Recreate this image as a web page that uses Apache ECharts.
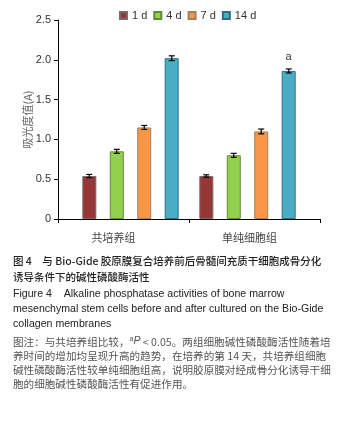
<!DOCTYPE html>
<html>
<head>
<meta charset="utf-8">
<script src="https://cdn.jsdelivr.net/npm/echarts@6/dist/echarts.min.js"></script>
<style>
  html, body { margin: 0; padding: 0; background: #fff; }
  #chart { width: 351px; height: 421px; }
</style>
</head>
<body>
<div id="chart"></div>
<script>
  // data
  var groups = ['共培养组', '单纯细胞组']
  var days = ['1 d', '4 d', '7 d', '14 d']
  var d1 = [0.54, 0.54]
  var d4 = [0.85, 0.80]
  var d7 = [1.15, 1.10]
  var d14 = [2.02, 1.86]
  var err1 = [0.02, 0.015]
  var err4 = [0.025, 0.025]
  var err7 = [0.025, 0.03]
  var err14 = [0.03, 0.025]
  var yTicks = [0, 0.5, 1.0, 1.5, 2.0, 2.5]

  var colors = ['#953735', '#92D050', '#F79646', '#4BACC6']
  var borders = ['#7a6a6a', '#5f8a34', '#a08060', '#2e6f85']
  var values = [d1, d4, d7, d14]
  var errs = [err1, err4, err7, err14]
  var fontLatin = '"Liberation Sans", Arial, sans-serif'
  var fontCJK = '"Noto Sans CJK SC", "Liberation Sans", sans-serif'

  var myChart = echarts.init(document.getElementById('chart'))

  var series = []
  days.forEach(function (d, i) {
    var data = values[i].map(function (v, j) {
      if (i === 3 && j === 1) {
        return {value: v, label: {show: true, formatter: 'a', position: 'top', distance: 8, color: '#333', fontSize: 11, fontFamily: fontLatin}}
      }
      return v
    })
    series.push({
      name: d,
      type: 'bar',
      xAxisIndex: 1,
      yAxisIndex: 1,
      barWidth: 14,
      barGap: '96%',
      itemStyle: {color: colors[i], borderColor: borders[i], borderWidth: 1},
      data: data
    })
  })

  // error bars
  days.forEach(function (d, i) {
    series.push({
      type: 'custom',
      xAxisIndex: 1,
      yAxisIndex: 1,
      z: 5,
      silent: true,
      data: values[i].map(function (v, j) { return [j, v - errs[i][j], v + errs[i][j]] }),
      renderItem: function (params, api) {
        var lo = api.coord([api.value(0), api.value(1)])
        var hi = api.coord([api.value(0), api.value(2)])
        var x = lo[0] + (i - 1.5) * 27.5
        var st = {stroke: '#000', lineWidth: 1.2}
        return {
          type: 'group',
          children: [
            {type: 'line', shape: {x1: x, y1: lo[1], x2: x, y2: hi[1]}, style: st},
            {type: 'line', shape: {x1: x - 3, y1: lo[1], x2: x + 3, y2: lo[1]}, style: st},
            {type: 'line', shape: {x1: x - 3, y1: hi[1], x2: x + 3, y2: hi[1]}, style: st}
          ]
        }
      }
    })
  })

  var yBase = {
    type: 'value',
    min: yTicks[0],
    max: yTicks[yTicks.length - 1],
    interval: 0.5,
    splitLine: {show: false}
  }

  var captionHead = [
    '图 4　与 Bio-Gide 胶原膜复合培养前后骨髓间充质干细胞成骨分化',
    '诱导条件下的碱性磷酸酶活性'
  ]
  var captionEn = [
    'Figure 4    Alkaline phosphatase activities of bone marrow',
    'mesenchymal stem cells before and after cultured on the Bio-Gide',
    'collagen membranes'
  ]
  var captionNote = [
    '图注：与共培养组比较，{s|a}{i|P} < 0.05。两组细胞碱性磷酸酶活性随着培',
    '养时间的增加均呈现升高的趋势，在培养的第 14 天，共培养组细胞',
    '碱性磷酸酶活性较单纯细胞组高，说明胶原膜对经成骨分化诱导干细',
    '胞的细胞碱性磷酸酶活性有促进作用。'
  ]

  var graphics = []
  var headY = [263, 279]
  captionHead.forEach(function (t, k) {
    graphics.push({type: 'text', left: 13, top: headY[k] - 7, style: {text: t, fill: '#222', font: '500 10.5px ' + fontCJK}})
  })
  var enY = [296, 311, 326]
  captionEn.forEach(function (t, k) {
    graphics.push({type: 'text', left: 13, top: enY[k] - 7, style: {text: t, fill: '#222', font: '10.6px ' + fontLatin}})
  })
  var noteY = [343, 358, 372, 386]
  captionNote.forEach(function (t, k) {
    graphics.push({
      type: 'text', left: 13, top: noteY[k] - 7,
      style: {
        text: t, fill: '#555', font: '10.6px ' + fontCJK,
        rich: {
          s: {fontSize: 7, verticalAlign: 'top', fill: '#555', fontFamily: fontLatin},
          i: {fontStyle: 'italic', fontSize: 10.6, fill: '#555', fontFamily: fontLatin}
        }
      }
    })
  })

  myChart.setOption({
    animation: false,
    textStyle: {fontFamily: fontLatin},
    legend: {
      data: days,
      left: 114,
      top: 5,
      icon: 'rect',
      itemWidth: 7,
      itemHeight: 7,
      itemGap: 6,
      textStyle: {color: '#333', fontSize: 11, fontFamily: fontLatin}
    },
    grid: [
      {left: 58, right: 31, top: 20, bottom: 202},
      {left: 72, right: 45, top: 20, bottom: 202}
    ],
    xAxis: [
      {
        type: 'category',
        gridIndex: 0,
        data: groups,
        axisLine: {lineStyle: {color: '#000', width: 1}},
        axisTick: {show: true, length: 4, lineStyle: {color: '#000'}},
        axisLabel: {
          margin: 13,
          color: '#444',
          fontSize: 11,
          fontFamily: fontCJK,
          formatter: function (v, idx) { return idx === 0 ? '{a|' + v + '}' : '{b|' + v + '}' },
          rich: {
            a: {padding: [0, 20, 0, 0], fontSize: 11, color: '#444', fontFamily: fontCJK},
            b: {padding: [0, 10, 0, 0], fontSize: 11, color: '#444', fontFamily: fontCJK}
          }
        }
      },
      {type: 'category', gridIndex: 1, data: groups, show: false}
    ],
    yAxis: [
      Object.assign({}, yBase, {
        gridIndex: 0,
        name: '吸光度值(A)',
        nameLocation: 'middle',
        nameGap: 25,
        nameMoveOverlap: false,
        nameTextStyle: {color: '#666', fontSize: 11, fontFamily: fontCJK},
        axisLine: {show: true, lineStyle: {color: '#000', width: 1}},
        axisTick: {show: true, length: 4, lineStyle: {color: '#000'}},
        axisLabel: {
          color: '#333',
          fontSize: 11,
          margin: 7,
          formatter: function (v) { return v === 0 ? '0' : v.toFixed(1) }
        }
      }),
      Object.assign({}, yBase, {gridIndex: 1, show: false})
    ],
    series: series,
    graphic: graphics
  })
</script>
</body>
</html>
